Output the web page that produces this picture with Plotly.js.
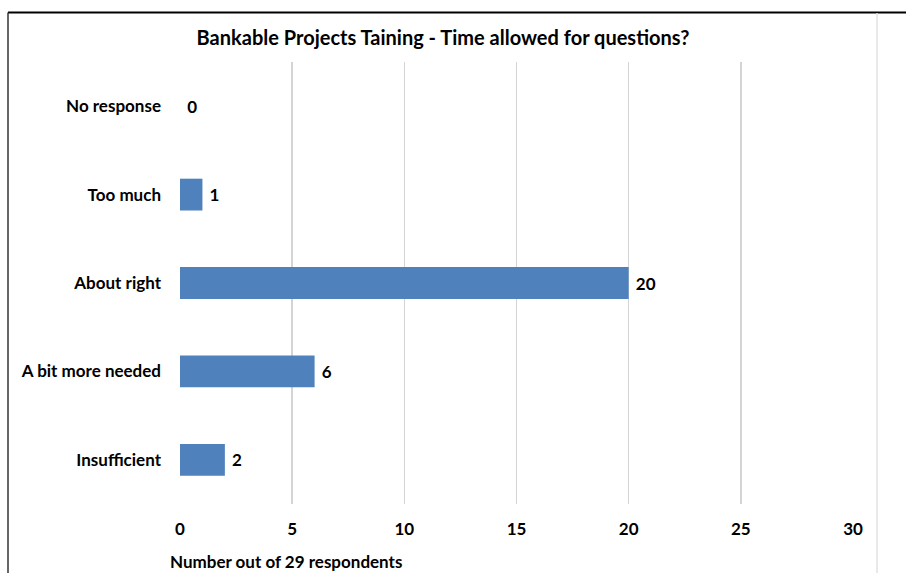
<!DOCTYPE html>
<html><head><meta charset="utf-8">
<script src="https://cdn.plot.ly/plotly-3.0.1.min.js"></script>
<style>html,body{margin:0;padding:0;background:#fff;}#chart{width:906px;height:573px;}</style>
</head><body><div id="chart"></div>
<script>
const categories = ["Insufficient", "A bit more needed", "About right", "Too much", "No response"];
const counts = [2, 6, 20, 1, 0];
const xTicks = [0, 5, 10, 15, 20, 25, 30];
const chartTitle = "Bankable Projects Taining - Time allowed for questions?";
const xAxisTitle = "Number out of 29 respondents";

const font = "Lato, 'Open Sans', sans-serif";
const trace = {
  type: "bar", orientation: "h",
  y: categories, x: counts,
  marker: {color: "#4F81BD"},
  width: 0.36,
  texttemplate: " %{x}", textposition: "outside",
  textfont: {family: font, size: 17, color: "#000", weight: "bold"},
  cliponaxis: false, hoverinfo: "none"
};
const layout = {
  width: 906, height: 573,
  margin: {l: 180, r: 53, t: 62, b: 69},
  paper_bgcolor: "#fff", plot_bgcolor: "#fff",
  showlegend: false,
  title: {text: chartTitle, x: 0.489, xanchor: "center", y: 0.934, yanchor: "middle",
          font: {family: font, size: 20, color: "#000", weight: "bold"}},
  xaxis: {range: [0, 30], tickvals: xTicks, ticktext: xTicks.map(String),
          showgrid: true, gridcolor: "#d4d4d4", gridwidth: 1.5, zeroline: false,
          showline: false, ticks: "", ticklabelstandoff: 13,
          tickfont: {family: font, size: 17, color: "#000", weight: "bold"}, fixedrange: true},
  yaxis: {categoryorder: "array", categoryarray: categories,
          showgrid: false, zeroline: false, showline: false, ticks: "", ticklabelstandoff: 18,
          tickfont: {family: font, size: 17, color: "#000", weight: "bold"}, fixedrange: true},
  annotations: [{text: xAxisTitle, xref: "paper", yref: "paper",
                 x: (168 - 180) / 673, xanchor: "left", y: (504 - 561) / 442, yanchor: "middle",
                 showarrow: false, font: {family: font, size: 17, color: "#000", weight: "bold"}}],
  shapes: [
    {type: "line", xref: "paper", yref: "paper", x0: (8 - 180) / 673, x1: (906 - 180) / 673,
     y0: (504 - 12.5) / 442, y1: (504 - 12.5) / 442, line: {color: "#000", width: 2}},
    {type: "line", xref: "paper", yref: "paper", x0: (8 - 180) / 673, x1: (8 - 180) / 673,
     y0: (504 - 12.5) / 442, y1: (504 - 574) / 442, line: {color: "#333", width: 1.5}},
    {type: "line", xref: "paper", yref: "paper", x0: (877 - 180) / 673, x1: (877 - 180) / 673,
     y0: (504 - 13) / 442, y1: (504 - 574) / 442, line: {color: "#e2e2e2", width: 1.5}}
  ]
};
Plotly.newPlot("chart", [trace], layout, {displayModeBar: false, staticPlot: true});
</script></body></html>
